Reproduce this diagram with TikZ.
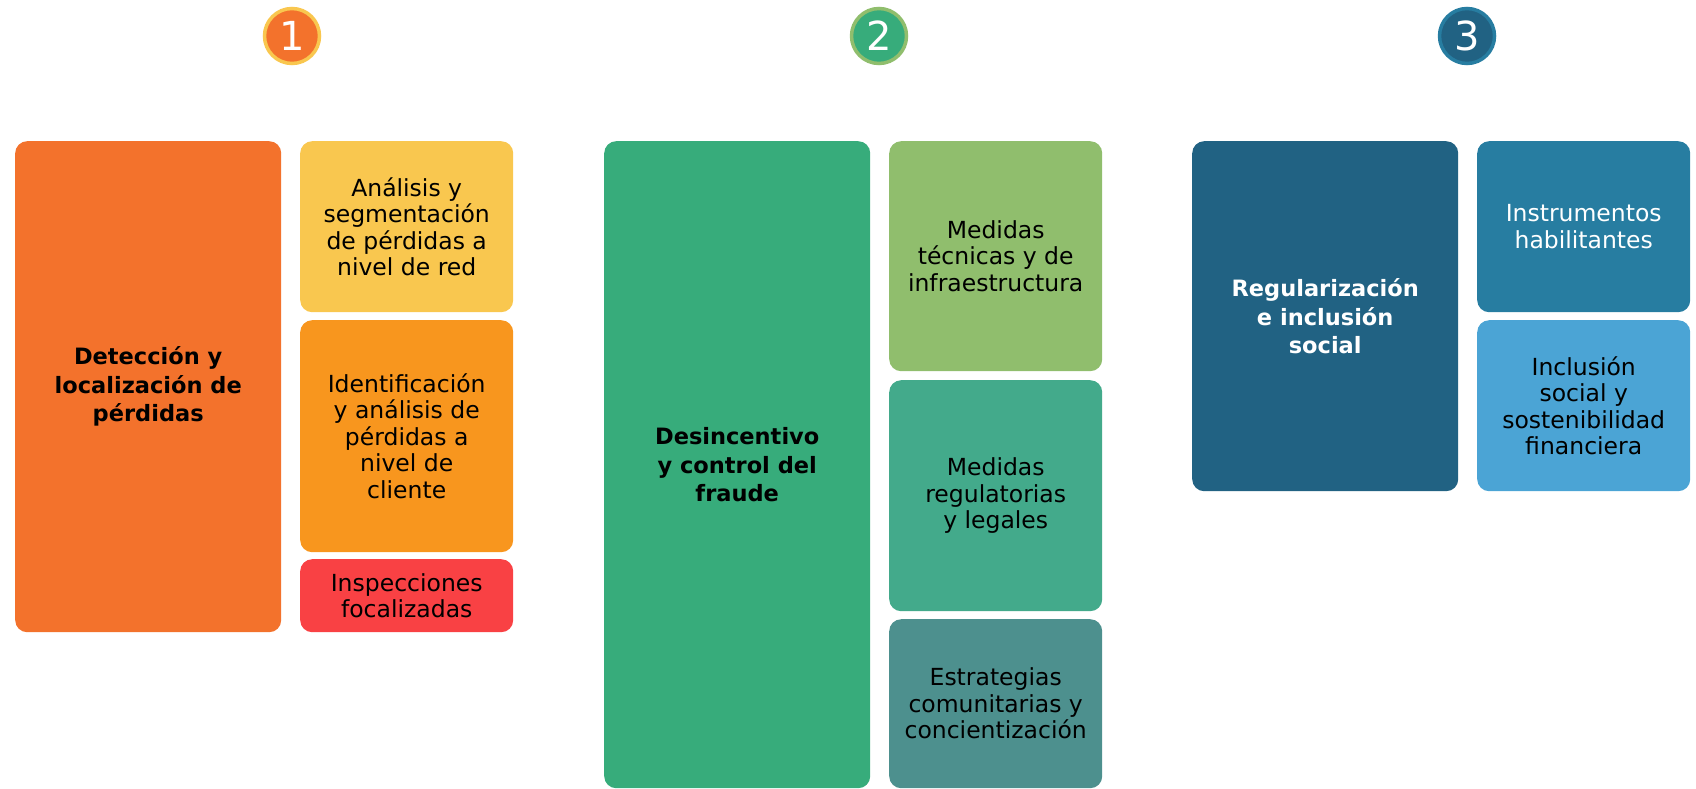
\documentclass[tikz,border=0pt]{standalone}
\usepackage{fontspec}
\setmainfont{DejaVu Sans}
\definecolor{detorange}{HTML}{F3722C}
\definecolor{detyellow}{HTML}{F9C74F}
\definecolor{detamber}{HTML}{F8961E}
\definecolor{detred}{HTML}{F94144}
\definecolor{frgreen}{HTML}{37AC7B}
\definecolor{frlime}{HTML}{90BE6D}
\definecolor{frteal}{HTML}{43AA8B}
\definecolor{frslate}{HTML}{4D908E}
\definecolor{regnavy}{HTML}{216283}
\definecolor{regblue}{HTML}{277DA1}
\definecolor{regsky}{HTML}{4BA4D5}

\begin{document}
\begin{tikzpicture}[x=1pt,y=-1pt,
	box/.style={rectangle,rounded corners=12pt,anchor=north west,inner sep=0pt,align=center,font=\fontsize{23.5}{26.5}\selectfont},
	mainbox/.style={box,minimum width=266pt,font=\fontsize{22.5}{28.5}\selectfont\bfseries},
	subbox/.style={box,minimum width=213pt},
	badge/.style={circle,minimum size=55pt,inner sep=0pt,line width=3.5pt,text=white,font=\fontsize{40}{40}\selectfont}]
	\useasboundingbox (0,0) rectangle (1696,789);
	
	% numbers
	\node[badge,fill=detorange,draw=detyellow] (n1) at (292,36) {1};
	\node[badge,fill=frgreen,draw=frlime] (n2) at (879,36) {2};
	\node[badge,fill=regnavy,draw=regblue] (n3) at (1467,36) {3};
	
	% 1
	\node[mainbox,fill=detorange,minimum height=491pt] (det) at (15,141) {Detección y\\localización de\\pérdidas};
	\node[subbox,fill=detyellow,minimum height=171pt] (red) at (300,141) {Análisis y\\segmentación\\de pérdidas a\\nivel de red};
	\node[subbox,fill=detamber,minimum height=232pt] (cli) at (300,320) {Identificación\\y análisis de\\pérdidas a\\nivel de\\cliente};
	\node[subbox,fill=detred,minimum height=73pt] (insp) at (300,559) {Inspecciones\\focalizadas};
	
	% 2
	\node[mainbox,fill=frgreen,minimum height=647pt] (fra) at (604,141) {Desincentivo\\y control del\\fraude};
	\node[subbox,fill=frlime,minimum height=230pt] (tec) at (889,141) {Medidas\\técnicas y de\\infraestructura};
	\node[subbox,fill=frteal,minimum height=231pt] (leg) at (889,380) {Medidas\\regulatorias\\y legales};
	\node[subbox,fill=frslate,minimum height=169pt] (com) at (889,619) {Estrategias\\comunitarias y\\concientización};
	
	% 3
	\node[mainbox,fill=regnavy,text=white,minimum height=350pt] (reg) at (1192,141) {Regularización\\e inclusión\\social};
	\node[subbox,fill=regblue,text=white,minimum height=171pt] (ins) at (1477,141) {Instrumentos\\habilitantes};
	\node[subbox,fill=regsky,minimum height=171pt] (fin) at (1477,320) {Inclusión\\social y\\sostenibilidad\\financiera};
\end{tikzpicture}
\end{document}
